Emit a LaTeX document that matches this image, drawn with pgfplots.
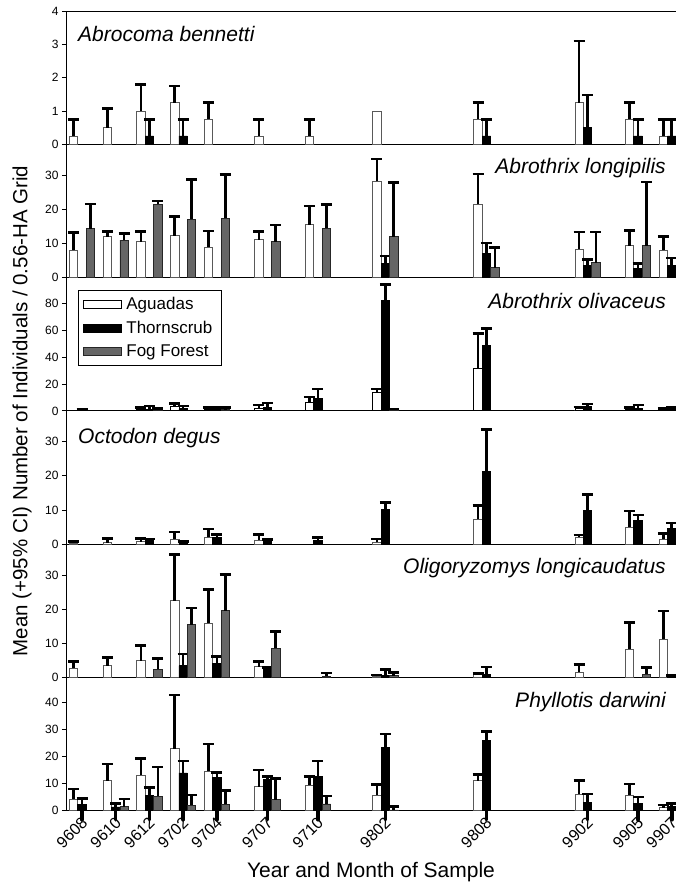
\documentclass[border=0pt]{standalone}
\usepackage{fontspec}
\setmainfont{Liberation Sans}
\usepackage{pgfplots}
\pgfplotsset{compat=1.18}

\newcommand\spname{\fontsize{21}{21}\selectfont\itshape}
\newcommand\xtl{\fontsize{16}{16}\selectfont}

% months counted from 9608 (Aug 1996)
\pgfplotsset{
  panel/.style={
    scale only axis, width=610pt, height=133.3pt,
    xmin=-0.95, xmax=35.25, ymin=0,
    axis x line=bottom, axis y line=left,
    axis line style={-, line width=0.9pt, black},
    xtick=\empty,
    tick align=outside, major tick length=4pt,
    ytick style={line width=0.8pt, black},
    yticklabel style={font=\fontsize{12}{12}\selectfont,
      /pgf/number format/assume math mode=true},
    ybar, bar width=0.5,
  },
  errs/.style={
    error bars/y dir=plus, error bars/y explicit,
    error bars/error bar style={line width=2.6pt, black, solid},
    error bars/error mark options={rotate=90, mark size=5.5pt, line width=2.6pt, black},
  },
  agu/.style={bar shift=-0.5, fill=white, draw=black!65, line width=0.8pt},
  tho/.style={bar shift=0, fill=black, draw=black, line width=0.8pt},
  fog/.style={bar shift=0.5, fill=black!60, draw=black!85, line width=0.8pt},
}

\begin{document}
\begin{tikzpicture}
\useasboundingbox (-66pt,-875pt) rectangle (610pt,11pt);

% ---- Abrocoma bennetti
\begin{axis}[panel, name=p1, at={(0,0)}, anchor=north west,
  axis x line=box, ymax=4, ytick={0,1,2,3,4}]
\addplot[agu, errs] coordinates {
  (0,0.25) +- (0,0.5) (2,0.5) +- (0,0.58) (4,1.0) +- (0,0.8) (6,1.25) +- (0,0.5)
  (8,0.75) +- (0,0.5) (11,0.25) +- (0,0.5) (14,0.25) +- (0,0.5) (24,0.75) +- (0,0.5)
  (30,1.25) +- (0,1.85) (33,0.75) +- (0,0.5) (35,0.25) +- (0,0.5)};
\addplot[agu] coordinates {(18,1.0)};
\addplot[tho, errs] coordinates {
  (4,0.25) +- (0,0.5) (6,0.25) +- (0,0.5) (24,0.25) +- (0,0.5)
  (30,0.5) +- (0,0.98) (33,0.25) +- (0,0.5) (35,0.25) +- (0,0.5)};
\node[anchor=north west, inner sep=0, font=\spname, xshift=12pt, yshift=-15pt]
  at (rel axis cs:0,1) {Abrocoma bennetti};
\end{axis}

% ---- Abrothrix longipilis
\begin{axis}[panel, name=p2, at={(p1.south west)}, anchor=north west,
  ymax=39.2, ytick={0,10,20,30}]
\addplot[agu, errs] coordinates {
  (0,8.0) +- (0,5.3) (2,12.0) +- (0,1.5) (4,10.5) +- (0,3.0) (6,12.3) +- (0,5.6)
  (8,9.0) +- (0,4.7) (11,11.2) +- (0,2.4) (14,15.5) +- (0,5.6) (18,28.3) +- (0,6.6)
  (24,21.5) +- (0,9.0) (30,8.3) +- (0,5.1) (33,9.4) +- (0,4.4) (35,8.0) +- (0,4.1)};
\addplot[tho, errs] coordinates {
  (18,4.1) +- (0,2.3) (24,7.2) +- (0,3.0) (30,3.6) +- (0,1.8)
  (33,2.8) +- (0,1.3) (35,3.6) +- (0,2.2)};
\addplot[fog, errs] coordinates {
  (0,14.4) +- (0,7.2) (2,11.0) +- (0,1.9) (4,21.6) +- (0,0.9) (6,17.1) +- (0,11.7)
  (8,17.5) +- (0,12.9) (11,10.5) +- (0,5.0) (14,14.5) +- (0,7.0) (18,12.0) +- (0,15.9)
  (24,2.95) +- (0,5.9) (30,4.4) +- (0,9.0) (33,9.4) +- (0,18.7)};
\node[anchor=north east, inner sep=0, font=\spname, xshift=-10pt, yshift=-14pt]
  at (rel axis cs:1,1) {Abrothrix longipilis};
\end{axis}

% ---- Abrothrix olivaceus
\begin{axis}[panel, name=p3, at={(p2.south west)}, anchor=north west,
  ymax=99, ytick={0,20,40,60,80},
  legend style={at={(0.02,0.905)}, anchor=north west, draw=black, line width=0.8pt,
    font=\fontsize{17}{17}\selectfont, row sep=6pt, inner xsep=4pt, inner ysep=5pt,
    cells={anchor=west}, nodes={inner xsep=5pt}},
  legend image code/.code={\draw[#1, line width=0.8pt] (0pt,-4pt) rectangle (38pt,4pt);}]
\addplot[agu, errs, draw=black] coordinates {
  (4,1.0) +- (0,1.5) (6,3.0) +- (0,2.4) (8,1.0) +- (0,1.5) (11,2.0) +- (0,2.4)
  (14,6.2) +- (0,4.2) (18,13.4) +- (0,2.9) (24,31.7) +- (0,26.0) (30,1.5) +- (0,1.5)
  (33,1.0) +- (0,1.5) (35,1.0) +- (0,1.0)};
\addplot[tho, errs] coordinates {
  (0,0.5) +- (0,1.0) (4,1.0) +- (0,2.5) (6,1.5) +- (0,2.2) (8,1.0) +- (0,1.5)
  (11,2.5) +- (0,3.5) (14,9.1) +- (0,7.2) (18,81.7) +- (0,12.1) (24,48.8) +- (0,12.3)
  (30,3.0) +- (0,2.0) (33,2.0) +- (0,2.5) (35,1.5) +- (0,1.0)};
\addplot[fog, errs] coordinates {
  (4,0.5) +- (0,1.5) (8,1.0) +- (0,1.5) (18,1.0) +- (0,0.5)};
\legend{Aguadas, Thornscrub, Fog Forest}
\node[anchor=north east, inner sep=0, font=\spname, xshift=-10pt, yshift=-15pt]
  at (rel axis cs:1,1) {Abrothrix olivaceus};
\end{axis}

% ---- Octodon degus
\begin{axis}[panel, name=p4, at={(p3.south west)}, anchor=north west,
  ymax=39, ytick={0,10,20,30}]
\addplot[agu, errs] coordinates {
  (0,0.3) +- (0,0.5) (2,0.4) +- (0,1.3) (4,0.7) +- (0,1.0) (6,1.4) +- (0,2.2)
  (8,2.0) +- (0,2.4) (11,1.2) +- (0,1.6) (18,0.5) +- (0,1.0) (24,7.3) +- (0,4.1)
  (30,2.0) +- (0,0.7) (33,5.0) +- (0,4.7) (35,1.4) +- (0,1.7)};
\addplot[tho, errs] coordinates {
  (4,1.0) +- (0,0.5) (6,0.4) +- (0,0.4) (8,2.0) +- (0,0.8) (11,0.7) +- (0,0.7)
  (14,1.0) +- (0,1.0) (18,10.1) +- (0,2.1) (24,21.2) +- (0,12.3) (30,9.8) +- (0,4.7)
  (33,7.0) +- (0,1.5) (35,4.6) +- (0,1.6)};
\node[anchor=north west, inner sep=0, font=\spname, xshift=12pt, yshift=-17pt]
  at (rel axis cs:0,1) {Octodon degus};
\end{axis}

% ---- Oligoryzomys longicaudatus
\begin{axis}[panel, name=p5, at={(p4.south west)}, anchor=north west,
  ymax=39, ytick={0,10,20,30}]
\addplot[agu, errs] coordinates {
  (0,2.7) +- (0,2.0) (2,3.4) +- (0,2.5) (4,4.9) +- (0,4.4) (6,22.5) +- (0,13.4)
  (8,15.8) +- (0,9.9) (11,3.2) +- (0,1.5) (18,0.3) +- (0,0.4) (24,1.0) +- (0,0.2)
  (30,1.6) +- (0,2.2) (33,8.3) +- (0,7.8) (35,11.2) +- (0,8.2)};
\addplot[tho, errs] coordinates {
  (6,3.5) +- (0,3.4) (8,4.0) +- (0,2.1) (11,2.7) +- (0,0.2) (18,0.5) +- (0,1.9)
  (24,1.0) +- (0,2.1) (35,0.5) +- (0,0.1)};
\addplot[fog, errs] coordinates {
  (4,2.4) +- (0,3.1) (6,15.5) +- (0,4.8) (8,19.6) +- (0,10.6) (11,8.5) +- (0,4.9)
  (14,0.3) +- (0,1.0) (18,0.5) +- (0,0.9) (33,1.0) +- (0,1.9)};
\node[anchor=north east, inner sep=0, font=\spname, xshift=-10pt, yshift=-14pt]
  at (rel axis cs:1,1) {Oligoryzomys longicaudatus};
\end{axis}

% ---- Phyllotis darwini
\begin{axis}[panel, name=p6, at={(p5.south west)}, anchor=north west,
  ymax=49, ytick={0,10,20,30,40},
  extra x ticks={0,2,4,6,8,11,14,18,24,30,33,35},
  extra x tick labels={\xtl 9608,\xtl 9610,\xtl 9612,\xtl 9702,\xtl 9704,\xtl 9707,
    \xtl 9710,\xtl 9802,\xtl 9808,\xtl 9902,\xtl 9905,\xtl 9907},
  extra x tick style={major tick length=9pt,
    tick style={line width=3.5pt, black, line cap=round},
    xticklabel style={rotate=45, anchor=east, xshift=5pt, yshift=-2pt}},
  xlabel={Year and Month of Sample},
  xlabel style={font=\fontsize{21}{21}\selectfont, yshift=-1pt}]
\addplot[agu, errs] coordinates {
  (0,4.3) +- (0,3.7) (2,11.0) +- (0,6.2) (4,13.0) +- (0,6.3) (6,22.8) +- (0,19.7)
  (8,14.6) +- (0,10.0) (11,8.9) +- (0,6.1) (14,9.3) +- (0,3.2) (18,5.8) +- (0,3.9)
  (24,11.0) +- (0,2.3) (30,6.2) +- (0,5.0) (33,5.8) +- (0,4.1) (35,1.2) +- (0,0.9)};
\addplot[tho, errs] coordinates {
  (0,2.2) +- (0,2.3) (2,1.4) +- (0,1.2) (4,5.7) +- (0,2.9) (6,13.9) +- (0,4.4)
  (8,12.3) +- (0,1.8) (11,11.6) +- (0,1.1) (14,12.5) +- (0,5.8) (18,23.2) +- (0,5.1)
  (24,25.7) +- (0,3.4) (30,3.2) +- (0,3.0) (33,2.6) +- (0,2.4) (35,1.5) +- (0,1.1)};
\addplot[fog, errs] coordinates {
  (2,1.5) +- (0,2.8) (4,5.3) +- (0,10.8) (6,2.0) +- (0,3.8) (8,2.4) +- (0,5.0)
  (11,4.1) +- (0,7.8) (14,2.5) +- (0,3.0) (18,0.3) +- (0,1.2)};
\node[anchor=north east, inner sep=0, font=\spname, xshift=-10pt, yshift=-15pt]
  at (rel axis cs:1,1) {Phyllotis darwini};
\end{axis}

\node[rotate=90, font=\fontsize{20.5}{20.5}\selectfont] at (-44pt,-400pt)
  {Mean (+95\% CI) Number of Individuals / 0.56-HA Grid};
\end{tikzpicture}
\end{document}
